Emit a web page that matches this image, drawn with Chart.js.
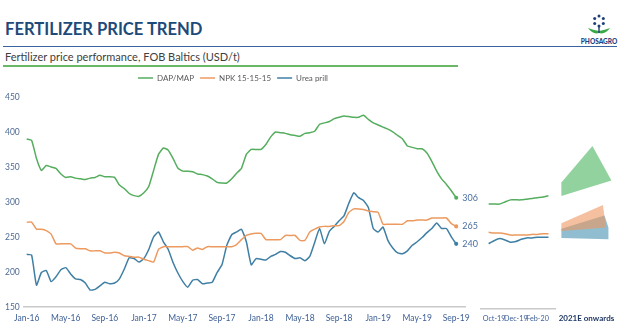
<!DOCTYPE html>
<html>
<head>
<meta charset="utf-8">
<script src="https://cdn.jsdelivr.net/npm/chart.js@4.4.1/dist/chart.umd.min.js"></script>
<style>
    body { margin: 0; width: 620px; height: 324px; background: #fff; position: relative; overflow: hidden; font-family: Lato, "Open Sans", sans-serif; }
    #titulo { position: absolute; left: 5px; top: 19px; font-size: 16.6px; font-weight: 700; color: #1e4a7a; white-space: nowrap; }
    #linea-azul { position: absolute; left: 3px; top: 46px; width: 614px; height: 1px; background: #3a64a0; }
    #subtitulo { position: absolute; left: 5px; top: 50px; font-size: 11px; color: #404040; white-space: nowrap; }
    #linea-verde { position: absolute; left: 3px; top: 65px; width: 455px; height: 2px; background: #6ab867; }
    #logo { position: absolute; left: 578px; top: 12px; width: 42px; text-align: center; line-height: 1; }
    #logo span { display: block; font-size: 6.5px; font-weight: 900; color: #1e3f7a; margin-top: -1px; }
    canvas { position: absolute; top: 68px; }
</style>
</head>
<body>
<div id="titulo">FERTILIZER PRICE TREND</div>
<div id="linea-azul"></div>
<div id="subtitulo">Fertilizer price performance, FOB Baltics (USD/t)</div>
<div id="linea-verde"></div>
<div id="logo">
    <svg width="40" height="26" viewBox="0 0 40 26">
        <g fill="#1e3f7a">
            <circle cx="20" cy="4" r="1.5"/><circle cx="24.3" cy="6.5" r="1.5"/><circle cx="24.3" cy="11.5" r="1.5"/>
            <circle cx="20" cy="14" r="1.5"/><circle cx="15.7" cy="11.5" r="1.5"/><circle cx="15.7" cy="6.5" r="1.5"/>
        </g>
        <path d="M9 16 Q14 23 20 21 Q26 23 31 16 Q26 18 20 19 Q14 18 9 16Z" fill="#3aaa49"/>
        <rect x="19.3" y="15" width="1.4" height="6" fill="#1e3f7a"/>
    </svg>
    <span>PHOSAGRO</span>
</div>
<canvas id="principal" width="485" height="262" style="left:0px"></canvas>
<canvas id="prevision" width="90" height="262" style="left:470px"></canvas>
<canvas id="perspectiva" width="65" height="262" style="left:555px"></canvas>

<script>
// precios quincenales ene-16 .. sep-19 (USD/t)
const dapMap = [390,388,362,345,352,350,348,340,335,336,
    334,333,332,334,335,338,336,336,335,324,
    319,312,309,308,313,322,345,368,377,374,
    362,348,344,344,343,340,339,337,333,328,
    327,327,333,341,348,368,375,375,375,382,
    393,400,399,398,396,395,394,398,399,401,
    411,413,415,419,421,423,422,421,421,424,
    418,413,410,407,404,400,395,390,380,378,
    376,376,370,358,344,333,325,316,306];
const npk = [271,271,261,261,259,254,240,240,240,240,
    234,233,233,230,230,230,227,227,228,227,
    223,222,221,221,218,216,214,232,236,236,
    236,236,236,236,231,234,232,236,236,236,
    236,236,236,239,246,252,254,255,255,246,
    246,246,246,252,252,252,245,245,257,261,
    264,265,265,266,266,272,285,290,290,289,
    287,286,285,268,268,268,268,268,273,273,
    274,274,274,277,277,277,277,269,265];
const urea = [225,224,181,199,202,186,193,203,206,197,
    190,189,184,174,175,180,185,183,184,190,
    204,220,219,214,219,232,250,257,243,232,
    213,198,186,178,188,189,183,184,185,199,
    210,238,253,257,261,243,210,219,218,217,
    222,225,229,228,223,219,220,216,222,242,
    262,240,258,265,273,280,298,313,306,302,
    292,262,257,264,245,234,227,226,230,238,
    243,249,256,262,270,262,262,250,240];
const meses = dapMap.map((v, i) => i / 2); // meses desde ene-16
const etiquetasX = ['Jan-16','May-16','Sep-16','Jan-17','May-17','Sep-17','Jan-18','May-18','Sep-18','Jan-19','May-19','Sep-19'];

// tramo oct-19 .. feb-20 (meses desde oct-19)
const mesesPrev = [-0.5,0,0.5,1,1.5,2,2.5,3,3.5,4,4.5,5];
const dapPrev = [298,298,298,301,304,304,304,305,306,307,308,310];
const npkPrev = [258,257,257,256,254,254,254,254,255,255,256,256];
const ureaPrev = [242,246,249,247,244,245,248,250,250,251,251,251];
const etiquetasPrev = ['Oct-19','Dec-19','Feb-20'];

// rangos 2021E en adelante: [avance, precio]
const dapRango = [[0,309],[0,328],[0.62,380],[1,331]];
const npkRango = [[0,259],[0,270],[0.83,296],[0.89,264]];
const ureaRango = [[0,249],[0,262],[0.86,281],[0.94,264],[0.94,247]];

const verde = '#55ad5e';
const naranja = '#ec9a5f';
const azul = '#3f7fa3';
const fuente = 'Lato';

function pares(xs, ys) {
    return ys.map((y, i) => ({ x: xs[i], y: y }));
}

function serie(label, data, color, marcaFinal) {
    return {
        label: label,
        data: data,
        borderColor: color,
        backgroundColor: color,
        borderWidth: 1.5,
        tension: 0.15,
        pointRadius: c => marcaFinal && c.dataIndex === c.dataset.data.length - 1 ? 1.3 : 0,
        pointBorderWidth: 1.5
    };
}

// texto con el ultimo precio al final de cada linea
const ultimoValor = {
    id: 'ultimoValor',
    afterDatasetsDraw(chart) {
        const ctx = chart.ctx;
        chart.data.datasets.forEach((ds, i) => {
            const puntos = chart.getDatasetMeta(i).data;
            const p = puntos[puntos.length - 1];
            ctx.save();
            ctx.font = '9px ' + fuente;
            ctx.fillStyle = '#4a6fa0';
            ctx.textBaseline = 'middle';
            ctx.fillText(ds.data[ds.data.length - 1].y, p.x + 6, p.y);
            ctx.restore();
        });
    }
};

// un poco de aire entre la leyenda y la grafica
const espacioLeyenda = {
    id: 'espacioLeyenda',
    beforeInit(chart) {
        const fitOriginal = chart.legend.fit;
        chart.legend.fit = function () {
            fitOriginal.bind(chart.legend)();
            this.height += 5;
        };
    }
};

Chart.defaults.font.family = fuente;
Chart.defaults.animation = false;

const grafica = new Chart(document.getElementById('principal'), {
    type: 'line',
    data: {
        datasets: [
            serie('DAP/MAP', pares(meses, dapMap), verde, true),
            serie('NPK 15-15-15', pares(meses, npk), naranja, true),
            serie('Urea prill', pares(meses, urea), azul, true)
        ]
    },
    options: {
        responsive: false,
        layout: { padding: { left: 1, right: 20, top: 0, bottom: 1 } },
        plugins: {
            legend: {
                labels: { usePointStyle: true, pointStyle: 'line', pointStyleWidth: 15, boxHeight: 8, padding: 6, color: '#595959', font: { size: 8 } }
            },
            tooltip: { enabled: false }
        },
        scales: {
            x: {
                type: 'linear', min: -0.3, max: 44.9,
                grid: { display: false, drawTicks: false },
                border: { color: '#c9c9c9', width: 1.5 },
                afterBuildTicks: s => { s.ticks = etiquetasX.map((t, i) => ({ value: i * 4 })); },
                ticks: { autoSkip: false, maxRotation: 0, padding: 6, color: '#3d5f96', font: { size: 8.5 }, callback: (v, i) => etiquetasX[i] }
            },
            y: {
                min: 150, max: 450,
                grid: { display: false, drawTicks: false },
                border: { display: false },
                ticks: { stepSize: 50, padding: 4, color: '#4f6b94', font: { size: 8.5 } }
            }
        }
    },
    plugins: [ultimoValor, espacioLeyenda]
});

const arriba = grafica.chartArea.top;

new Chart(document.getElementById('prevision'), {
    type: 'line',
    data: {
        datasets: [
            serie('DAP/MAP', pares(mesesPrev, dapPrev), verde, false),
            serie('NPK 15-15-15', pares(mesesPrev, npkPrev), naranja, false),
            serie('Urea prill', pares(mesesPrev, ureaPrev), azul, false)
        ]
    },
    options: {
        responsive: false,
        layout: { padding: { left: 11, right: 5, top: arriba, bottom: 1 } },
        plugins: { legend: { display: false }, tooltip: { enabled: false } },
        scales: {
            x: {
                type: 'linear', min: -1.2, max: 5.6,
                grid: { display: false, drawTicks: false },
                border: { color: '#c9c9c9', width: 1.5 },
                afterBuildTicks: s => { s.ticks = etiquetasPrev.map((t, i) => ({ value: i * 2 })); },
                ticks: { autoSkip: false, maxRotation: 0, padding: 6, color: '#3d5f96', font: { size: 7.2 }, callback: (v, i) => etiquetasPrev[i] }
            },
            y: { display: false, min: 150, max: 450 }
        }
    }
});

function rango(puntos, color) {
    return {
        data: puntos.map(p => ({ x: p[0], y: p[1] })),
        backgroundColor: color,
        borderWidth: 0,
        pointRadius: 0,
        tension: 0,
        fill: 'shape'
    };
}

new Chart(document.getElementById('perspectiva'), {
    type: 'line',
    data: {
        datasets: [
            rango(dapRango, 'rgba(110,195,125,0.75)'),
            rango(npkRango, 'rgba(236,150,95,0.6)'),
            rango(ureaRango, 'rgba(70,145,175,0.6)')
        ]
    },
    options: {
        responsive: false,
        layout: { padding: { left: 0, right: 0, top: arriba, bottom: 1 } },
        plugins: { legend: { display: false }, tooltip: { enabled: false } },
        scales: {
            x: {
                type: 'linear', min: -0.12, max: 1.08,
                grid: { display: false, drawTicks: false },
                border: { display: false },
                afterBuildTicks: s => { s.ticks = [{ value: 0.5 }]; },
                ticks: { autoSkip: false, maxRotation: 0, padding: 6, color: '#1f3864', font: { size: 8, weight: 'bold' }, callback: () => '2021E onwards' }
            },
            y: { display: false, min: 150, max: 450 }
        }
    }
});
</script>
</body>
</html>
